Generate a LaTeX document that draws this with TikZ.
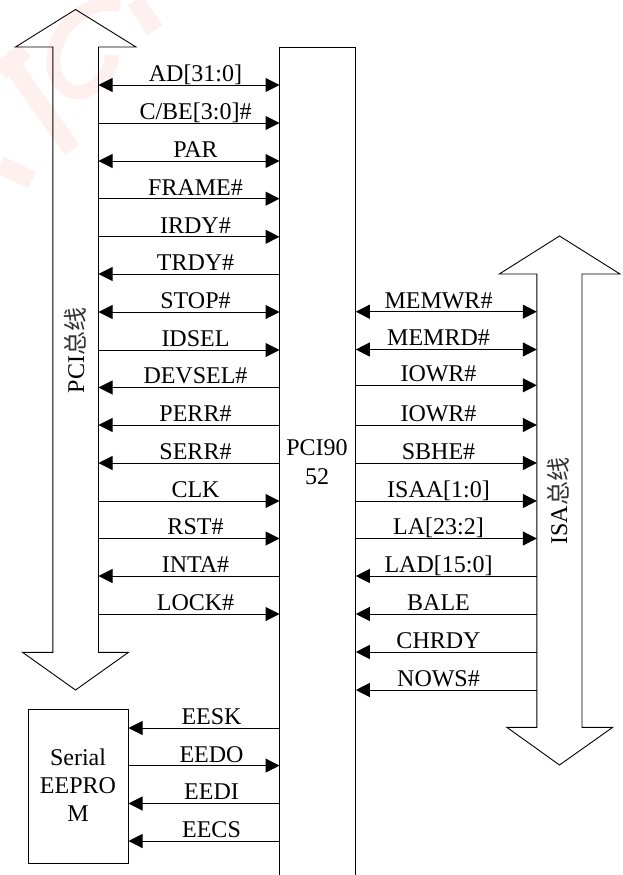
\documentclass[tikz,border=0pt]{standalone}
\usepackage{fontspec}
\setmainfont{Liberation Serif}
\newfontfamily\cjk{Noto Sans CJK SC}
\usetikzlibrary{arrows.meta}
\tikzset{
  x=1pt,y=-1pt,
  outline/.style={draw=black,line width=0.9pt,line join=miter},
  both/.style={{Triangle[length=14pt,width=14pt]}-{Triangle[length=14pt,width=14pt]}},
  toR/.style={-{Triangle[length=14pt,width=14pt]}},
  toL/.style={{Triangle[length=14pt,width=14pt]}-},
  sigline/.style={draw=black,line width=1pt},
  lab/.style={inner sep=0pt,anchor=base,font=\fontsize{24}{28}\selectfont},
  blk/.style={inner sep=0pt,anchor=base,font=\fontsize{24}{28}\selectfont},
  mark pink/.style={draw=red!6,line width=18pt,line cap=butt},
}
\begin{document}
\begin{tikzpicture}
\useasboundingbox (0,0) rectangle (622,875);
\fill[white] (0,0) rectangle (622,875);
% faint watermark
\draw[mark pink] (0,72) -- (25,50);
\draw[mark pink] (12,65) -- (72,150);
\draw[mark pink,line width=14pt] (120,5) .. controls (75,-5) and (35,55) .. (62,85) .. controls (80,105) and (112,80) .. (112,55);
\draw[mark pink] (135,0) -- (155,30);
\draw[mark pink] (0,165) -- (32,180);
% coordinates of the vertical walls
\coordinate (busR) at (98.5,0);
\coordinate (chipL) at (279.5,0);
\coordinate (chipR) at (355.8,0);
\coordinate (isaL) at (536.8,0);
\coordinate (boxR) at (128.5,0);
% PCI bus
\draw[outline] (52.8,652.3) -- (22.5,652.3) -- (75.5,690) -- (128.5,652.3) -- (98.5,652.3) -- (98.5,47) -- (136,47) -- (75.5,9.5) -- (15.5,47) -- (52.8,47) -- cycle;
% ISA bus
\draw[outline] (536.8,727.3) -- (506.8,727.3) -- (559.5,765) -- (612.7,727.3) -- (582,727.3) -- (582,274) -- (620,274) -- (559.5,236) -- (499.3,274) -- (536.8,274) -- cycle;
% chip
\draw[outline] (279.5,875) -- (279.5,47) -- (355.8,47) -- (355.8,875);
\node[blk] (chip1) at (317,455) {PCI90};
\node[blk] (chip2) at (317,484.5) {52};
% EEPROM
\draw[outline] (28.3,709) rectangle (128.5,863);
\node[blk] (ee1) at (78,765) {Serial};
\node[blk] (ee2) at (78,793) {EEPRO};
\node[blk] (ee3) at (78,821.5) {M};
% bus names
\node[blk,rotate=90] (pciname) at (84,350.5) {PCI{\cjk\color{black!80}总线}};
\node[blk,rotate=90] (isaname) at (567,501) {ISA{\cjk\color{black!80}总线}};
% PCI signals
\foreach \n/\yy/\txt/\tip in {
 a/85/{AD[31:0]}/both, b/123/{C/BE[3:0]\#}/toR, c/161/{PAR}/both, d/198.7/{FRAME\#}/toR,
 e/236.8/{IRDY\#}/toR, f/274/{TRDY\#}/toL, g/312/{STOP\#}/both, h/350/{IDSEL}/toR,
 i/387.5/{DEVSEL\#}/toL, j/425/{PERR\#}/toL, k/463/{SERR\#}/toL, l/501/{CLK}/toR,
 m/538.5/{RST\#}/toR, n/576/{INTA\#}/toL, o/614/{LOCK\#}/toR}{
  \coordinate (p\n) at (195.5,\yy);
  \node[lab,yshift=3.6pt] (pl\n) at (p\n) {\txt};
  \draw[sigline,style/.expanded=\tip] (busR |- p\n) -- (chipL |- p\n);
}
% ISA signals
\foreach \n/\yy/\txt/\tip in {
 a/311.7/{MEMWR\#}/both, b/349.5/{MEMRD\#}/both, c/385.3/{IOWR\#}/toR, d/425/{IOWR\#}/toR,
 e/463/{SBHE\#}/toR, f/501/{ISAA[1:0]}/toR, g/538.5/{LA[23:2]}/toR, h/576/{LAD[15:0]}/toL,
 i/614/{BALE}/toL, j/652/{CHRDY}/toL, k/690/{NOWS\#}/toL}{
  \coordinate (q\n) at (438.5,\yy);
  \node[lab,yshift=3.6pt] (ql\n) at (q\n) {\txt};
  \draw[sigline,style/.expanded=\tip] (chipR |- q\n) -- (isaL |- q\n);
}
% EEPROM signals
\foreach \n/\yy/\txt/\tip in {
 a/728/{EESK}/toL, b/765.6/{EEDO}/toR, c/803.5/{EEDI}/toL, d/841/{EECS}/toL}{
  \coordinate (r\n) at (211.5,\yy);
  \node[lab,yshift=3.6pt] (rl\n) at (r\n) {\txt};
  \draw[sigline,style/.expanded=\tip] (boxR |- r\n) -- (chipL |- r\n);
}
\end{tikzpicture}
\end{document}
